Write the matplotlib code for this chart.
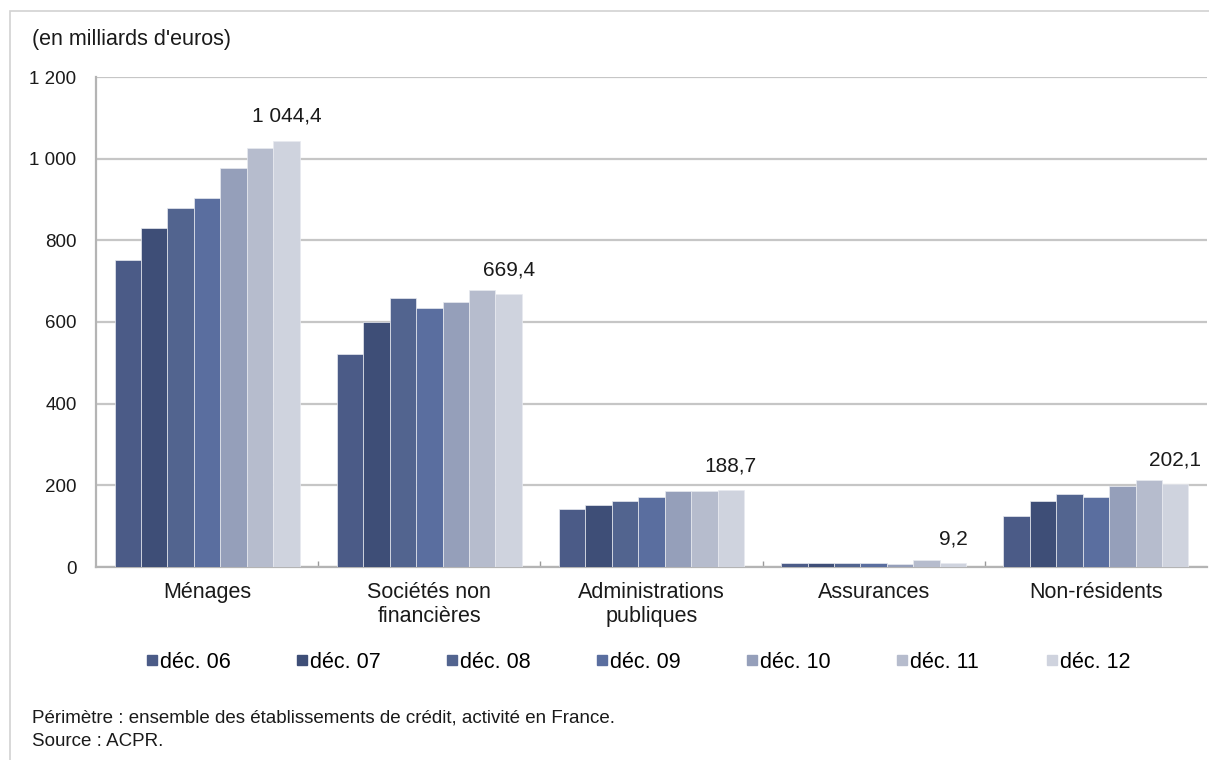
import matplotlib
matplotlib.use("Agg")
import matplotlib.pyplot as plt
import numpy as np
from matplotlib.patches import Rectangle
from matplotlib.lines import Line2D

plt.rcParams['font.family'] = ['Liberation Sans', 'DejaVu Sans']

categories = ['Ménages', 'Sociétés non\nfinancières', 'Administrations\npubliques',
              'Assurances', 'Non-résidents']
series_labels = ['déc. 06', 'déc. 07', 'déc. 08', 'déc. 09', 'déc. 10', 'déc. 11', 'déc. 12']

dec06 = [752, 522, 143, 10, 124]
dec07 = [830, 601, 153, 10, 162]
dec08 = [879, 659, 162, 10, 178]
dec09 = [903, 635, 171, 10, 171]
dec10 = [976, 650, 186, 8, 198]
dec11 = [1025, 678, 185, 16, 212]
dec12 = [1044.4, 669.4, 188.7, 9.2, 202.1]

series = [dec06, dec07, dec08, dec09, dec10, dec11, dec12]
colors = ['#4b5b87', '#3e4e77', '#52648f', '#5a6e9f', '#959fba', '#b6bccd', '#cfd3de']

yticks = [0, 200, 400, 600, 800, 1000, 1200]


def fr_number(v, decimals=0):
    s = f"{v:,.{decimals}f}"
    return s.replace(',', ' ').replace('.', ',')


W, H = 1209, 760
fig = plt.figure(figsize=(W / 100, H / 100), dpi=100)
fig.patch.set_facecolor('white')

# outer frame (extends past the right and bottom edges)
fig.patches.append(Rectangle((10 / W, -0.1), 1.2, 1 - 11 / H + 0.1,
                             transform=fig.transFigure, fill=False,
                             edgecolor='#d2d2d2', linewidth=1.2, clip_on=False))

ax = fig.add_axes([96 / W, 1 - 567 / H, (1207 - 96) / W, (567 - 77) / H])

x = np.arange(len(categories))
n = len(series)
bw = 0.119
offsets = (np.arange(n) - (n - 1) / 2) * bw

for i, (vals, col) in enumerate(zip(series, colors)):
    ax.bar(x + offsets[i], vals, width=bw, color=col,
           edgecolor='#e8eaf0', linewidth=0.5, zorder=3)

# value labels above the last series
for xi, v in zip(x, dec12):
    ax.annotate(fr_number(v, 1), xy=(xi + offsets[-1], v), xytext=(0, 10.5),
                textcoords='offset points', ha='center', va='bottom',
                fontsize=15, color='#1a1a1a')

ax.set_xlim(-0.5, len(categories) - 0.5)
ax.set_ylim(0, 1200)
ax.set_yticks(yticks)
ax.set_yticklabels([fr_number(t) for t in yticks], fontsize=13.5, color='#1a1a1a')
ax.tick_params(axis='y', length=0, pad=14)

ax.set_xticks(x)
ax.set_xticklabels(categories, fontsize=15.5, color='#1a1a1a', linespacing=1.2)
ax.tick_params(axis='x', which='major', length=0, pad=11)
ax.set_xticks(np.arange(0.5, len(categories) - 0.5, 1), minor=True)
ax.tick_params(axis='x', which='minor', direction='in', length=4, width=1,
               color='#9a9a9a')

ax.grid(axis='y', color='#c6c6c6', linewidth=1.6, zorder=0)
ax.set_axisbelow(True)
for side in ['top', 'right']:
    ax.spines[side].set_visible(False)
for side in ['left', 'bottom']:
    ax.spines[side].set_color('#b4b4b4')
    ax.spines[side].set_linewidth(1.6)

# legend entries, evenly spaced
for i, (lab, col) in enumerate(zip(series_labels, colors)):
    h = Line2D([], [], marker='s', linestyle='none', markersize=7.5,
               markerfacecolor=col, markeredgecolor=col)
    fig.legend(handles=[h], labels=[lab], loc='center left',
               bbox_to_anchor=((147 + 150 * i) / W, 1 - 662 / H),
               frameon=False, fontsize=15.5, handlelength=0.5,
               handletextpad=0.1, borderpad=0, borderaxespad=0)

fig.text(32 / W, 1 - 40 / H, "(en milliards d'euros)", fontsize=15.5,
         va='center', ha='left', color='#1a1a1a')
fig.text(32 / W, 1 - 718 / H,
         "Périmètre : ensemble des établissements de crédit, activité en France.",
         fontsize=13.5, va='center', ha='left', color='#1a1a1a')
fig.text(32 / W, 1 - 741 / H, "Source : ACPR.", fontsize=13.5,
         va='center', ha='left', color='#1a1a1a')

fig.savefig('out.png', dpi=100, facecolor='white')
